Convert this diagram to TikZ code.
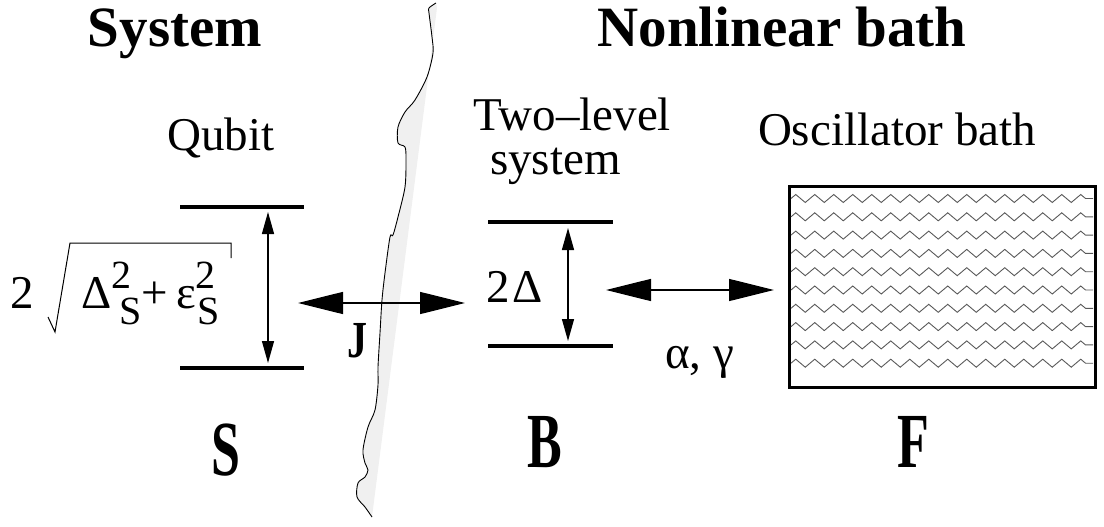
\documentclass[tikz,border=0pt]{standalone}
\usepackage{fontspec}
\setmainfont{LiberationSerif}[Extension=.ttf, UprightFont=*-Regular, BoldFont=*-Bold, Ligatures=TeX]
\usetikzlibrary{arrows.meta,decorations.pathmorphing}
\tikzset{
  title/.style={font=\fontsize{57}{60}\selectfont\bfseries, inner sep=0pt, anchor=base},
  lbl/.style={font=\fontsize{47}{50}\selectfont, inner sep=0pt, anchor=base},
  tag/.style={font=\fontsize{52}{55}\selectfont\bfseries, inner sep=0pt, anchor=base},
  level/.style={line width=4pt},
  gap/.style={{Triangle[length=22pt,width=12pt]}-{Triangle[length=22pt,width=12pt]}, line width=1.3pt},
  couple/.style={{Triangle[length=45pt,width=22pt]}-{Triangle[length=45pt,width=22pt]}, line width=1.3pt},
  zig/.style={black!65, line width=0.9pt, decorate,
    decoration={zigzag, segment length=19pt, amplitude=4pt}},
  cut/.style={line width=0.9pt},
}
\newcommand{\scr}{\fontsize{40}{40}\selectfont}
\newcommand{\sqS}[1]{\makebox[0pt][l]{\raisebox{20pt}{\scr 2}}\hspace{#1pt}\raisebox{-16pt}{\scr S}}
\newcommand{\tall}[1]{\scalebox{1}[1.5]{#1}}

\begin{document}
\begin{tikzpicture}[x=1pt, y=-1pt]
  \useasboundingbox (0,0) rectangle (1104,527);
  % cut between system and bath
  \fill[black!6] plot[smooth] coordinates {(436,3) (429,8) (429,13) (432,37) (433,53)
      (427,77) (415,100) (405,112) (398,127) (398,143) (405,147) (406,160) (405,187)
      (398,217) (393,235) (390,237) (385,273) (382,300) (380,333) (378,367) (378,385)
      (375,410) (368,427) (363,450) (365,463) (368,470) (365,477) (358,483) (357,497)
      (365,507) (372,517)} -- (437,8) -- cycle;
  \draw[cut] plot[smooth] coordinates {(436,3) (429,8) (429,13) (432,37) (433,53)
      (427,77) (415,100) (405,112) (398,127) (398,143) (405,147) (406,160) (405,187)
      (398,217) (393,235) (390,237) (385,273) (382,300) (380,333) (378,367) (378,385)
      (375,410) (368,427) (363,450) (365,463) (368,470) (365,477) (358,483) (357,497)
      (365,507) (372,517)};

  \node[title] (sys) at (175,47) {System};
  \node[title] (nlb) at (782,47) {Nonlinear bath};
  \node[lbl] (qubit) at (221,150) {Qubit};
  \node[lbl, anchor=base west] (tls) at (473,131) {Two--level};
  \node[lbl, anchor=base west] (tlsb) at (490,174) {system};
  \node[lbl] (osc) at (897,146) {Oscillator bath};

  % qubit levels
  \draw[level] (180,207) -- (304,207);
  \draw[level] (180,368) -- (304,368);
  \coordinate (qtop) at (268,212);
  \coordinate (qbot) at (268,363);
  \draw[gap] (qtop) -- (qbot);
  \node[lbl] (two) at (22,308) {2};
  \draw[line width=1pt] (48,317) -- (55,332) -- (70,243) -- (231,243) -- (231,258);
  \node[lbl, anchor=base west] (root) at (81,308) {Δ\sqS{8}+\hspace{8pt}ε\sqS{2}};

  % coupling J
  \coordinate (jl) at (298,303);
  \coordinate (jr) at (465,303);
  \draw[couple] (jl) -- (jr);
  \node[font=\fontsize{40}{40}\selectfont\bfseries, inner sep=0pt, anchor=base] (J) at (357,357) {\scalebox{1}[1.3]{J}};

  % two-level system
  \draw[level] (488,222) -- (613,222);
  \draw[level] (488,346) -- (613,346);
  \coordinate (btop) at (568,228);
  \coordinate (bbot) at (568,341);
  \draw[gap] (btop) -- (bbot);
  \node[lbl, anchor=base west] (bgap) at (486,302) {2\hspace{3pt}Δ};

  % coupling to bath
  \coordinate (al) at (606,290);
  \coordinate (ar) at (774,290);
  \draw[couple] (al) -- (ar);
  \node[lbl, anchor=base west] (ag) at (665,368) {α, γ};

  % oscillator bath
  \node[draw, line width=3pt, minimum width=306pt, minimum height=201pt, inner sep=0pt] (bath) at (942,286.5) {};
  \foreach \k in {0,...,9}
    \draw[zig] (791,{198.5+18.3*\k}) -- (1093,{198.5+18.3*\k});

  \node[tag] (S) at (226,475) {\tall{S}};
  \node[tag] (B) at (545,467) {\tall{B}};
  \node[tag] (F) at (913,467) {\tall{F}};
\end{tikzpicture}
\end{document}
